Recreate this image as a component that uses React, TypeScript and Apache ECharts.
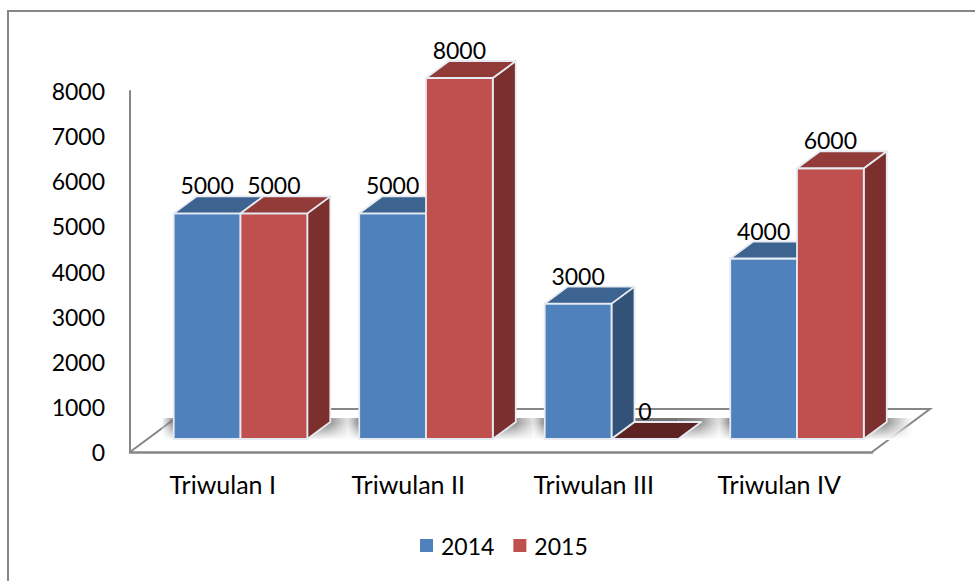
import React, { useEffect, useRef } from "react";
import * as echarts from "echarts";

const categories = ["Triwulan I", "Triwulan II", "Triwulan III", "Triwulan IV"];
const values2014 = [5000, 5000, 3000, 4000];
const values2015 = [5000, 8000, 0, 6000];
const yTicks = { min: 0, max: 8000, interval: 1000 };

const FONT = "Lato";
const FS = 23;
const FS_CAT = 25;
const DEPTH_X = 23;
const DEPTH_Y = 17;
const SHIFT_X = 17.75;
const SHIFT_Y = 13;
const GAP_RATIO = 0.36;
const AXIS = "#868686";

const barRenderer = (seriesPos: number, front: string, top: string, side: string, floorTop: string) =>
  (params: any, api: any) => {
    const cat = api.value(0);
    const val = api.value(1);
    const band = api.size([1, 0])[0];
    const w = band * GAP_RATIO;
    const [cx, y1] = api.coord([cat, val]);
    const [, y0] = api.coord([cat, 0]);
    const x0 = cx + SHIFT_X + seriesPos * w;
    const x1 = x0 + w;
    const yTop = y1 - SHIFT_Y;
    const yBase = y0 - SHIFT_Y;
    const edge = { stroke: "#e6eaf1", lineWidth: 1.8, lineJoin: "round" };
    const children: any[] = [];
    if (val > 0) {
      children.push({
        type: "polygon",
        shape: { points: [[x1, yTop], [x1 + DEPTH_X, yTop - DEPTH_Y], [x1 + DEPTH_X, yBase - DEPTH_Y], [x1, yBase]] },
        style: { fill: side, ...edge },
      });
      children.push({
        type: "rect",
        shape: { x: x0, y: yTop, width: w, height: yBase - yTop },
        style: { fill: front, ...edge },
      });
    }
    children.push({
      type: "polygon",
      shape: { points: [[x0, yTop], [x1, yTop], [x1 + DEPTH_X, yTop - DEPTH_Y], [x0 + DEPTH_X, yTop - DEPTH_Y]] },
      style: { fill: val > 0 ? top : floorTop, ...edge },
    });
    children.push({
      type: "text",
      style: {
        text: String(val),
        x: x0 + w / 2,
        y: yTop - 28,
        fill: "#000",
        font: `${FS}px ${FONT}`,
        align: "center",
        verticalAlign: "middle",
      },
    });
    return { type: "group", children };
  };

const floorRenderer = (params: any, api: any) => {
  const cs = params.coordSys;
  const xl = cs.x;
  const xr = cs.x + cs.width;
  const yb = cs.y + cs.height;
  return {
    type: "polyline",
    shape: { points: [[xl, yb], [xl + 58, yb - 43], [xr + 58, yb - 43], [xr, yb]] },
    style: { stroke: AXIS, lineWidth: 2, fill: "#fff" },
  };
};

const shadowRenderer = (params: any, api: any) => {
  const cat = api.value(0);
  const band = api.size([1, 0])[0];
  const w = band * GAP_RATIO;
  const [cx, y0] = api.coord([cat, 0]);
  const x0 = cx + SHIFT_X - w;
  const x1 = cx + SHIFT_X + w;
  const yBase = y0 - SHIFT_Y;
  const yBack = yBase - 21;
  const fade = 26;
  return {
    type: "group",
    children: [
      {
        type: "rect",
        shape: { x: x0 - 12, y: yBack, width: 12, height: yBase - yBack },
        style: {
          fill: { type: "linear", x: 0, y: 0, x2: 1, y2: 0, colorStops: [{ offset: 0, color: "rgba(120,120,120,0)" }, { offset: 1, color: "rgba(110,110,110,0.85)" }] },
        },
      },
      {
        type: "rect",
        shape: { x: x0, y: yBack, width: x1 - x0, height: yBase - yBack },
        style: { fill: "rgba(110,110,110,0.95)" },
      },
      {
        type: "rect",
        shape: { x: x1, y: yBack, width: DEPTH_X + fade, height: yBase - yBack },
        style: {
          fill: { type: "linear", x: 0, y: 0, x2: 1, y2: 0, colorStops: [{ offset: 0, color: "rgba(110,110,110,0.95)" }, { offset: 0.45, color: "rgba(120,120,120,0.8)" }, { offset: 1, color: "rgba(150,150,150,0)" }] },
        },
      },
      {
        type: "rect",
        shape: { x: x0 - 12, y: yBase - 16, width: w * 2 + DEPTH_X + fade + 12, height: 17 },
        style: {
          fill: { type: "linear", x: 0, y: 0, x2: 0, y2: 1, colorStops: [{ offset: 0, color: "rgba(255,255,255,0)" }, { offset: 1, color: "rgba(255,255,255,1)" }] },
        },
      },
      {
        type: "rect",
        shape: { x: x0, y: yBase - 1, width: w * 2, height: 2 },
        style: { fill: "#b5b5b5" },
      },
    ],
  };
};

export default function App() {
  const ref = useRef<HTMLDivElement>(null);
  useEffect(() => {
    document.body.style.margin = "0";
    const chart = echarts.init(ref.current!, undefined, { renderer: "svg" });
    chart.setOption({
      animation: false,
      backgroundColor: "#fff",
      textStyle: { fontFamily: FONT },
      graphic: [
        {
          type: "rect",
          silent: true,
          z: -1,
          shape: { x: 8, y: 11, width: 1100, height: 800 },
          style: { fill: "none", stroke: AXIS, lineWidth: 2 },
        },
      ],
      grid: { left: 130, top: 91, width: 742, height: 361, containLabel: false },
      xAxis: {
        type: "category",
        data: categories,
        axisLine: { show: true, lineStyle: { color: AXIS, width: 2.5 } },
        axisTick: { show: false },
        axisLabel: { color: "#000", fontFamily: FONT, fontSize: FS_CAT, margin: 19 },
        z: 1,
      },
      yAxis: {
        type: "value",
        ...yTicks,
        splitLine: { show: false },
        axisLine: { show: true, lineStyle: { color: AXIS, width: 2 } },
        axisTick: { show: false },
        axisLabel: { color: "#000", fontFamily: FONT, fontSize: FS, margin: 25, formatter: (v: number) => String(v) },
      },
      legend: {
        show: true,
        left: 420,
        top: 534,
        padding: 0,
        itemWidth: 13,
        itemHeight: 13,
        itemGap: 19,
        icon: "rect",
        data: ["2014", "2015"],
        textStyle: { color: "#000", fontFamily: FONT, fontSize: FS, padding: [0, 0, 0, 3] },
      },
      series: [
        {
          type: "custom",
          name: "floor",
          silent: true,
          renderItem: floorRenderer,
          data: [[0, 0]],
          encode: { x: 0, y: 1 },
          z: 0,
        },
        {
          type: "custom",
          name: "shadow",
          silent: true,
          renderItem: shadowRenderer,
          data: categories.map((_, i) => [i, 0]),
          encode: { x: 0, y: 1 },
          z: 1,
        },
        {
          type: "custom",
          name: "2014",
          renderItem: barRenderer(-1, "#4f81bd", "#3d6491", "#325277", "#254061"),
          data: values2014.map((v, i) => [i, v]),
          encode: { x: 0, y: 1 },
          itemStyle: { color: "#4f81bd" },
          z: 2,
        },
        {
          type: "custom",
          name: "2015",
          renderItem: barRenderer(0, "#c0504d", "#923b39", "#7b302e", "#5c2322"),
          data: values2015.map((v, i) => [i, v]),
          encode: { x: 0, y: 1 },
          itemStyle: { color: "#c0504d" },
          z: 3,
        },
      ],
    });
    return () => chart.dispose();
  }, []);
  return <div ref={ref} style={{ width: 975, height: 581 }} />;
}
